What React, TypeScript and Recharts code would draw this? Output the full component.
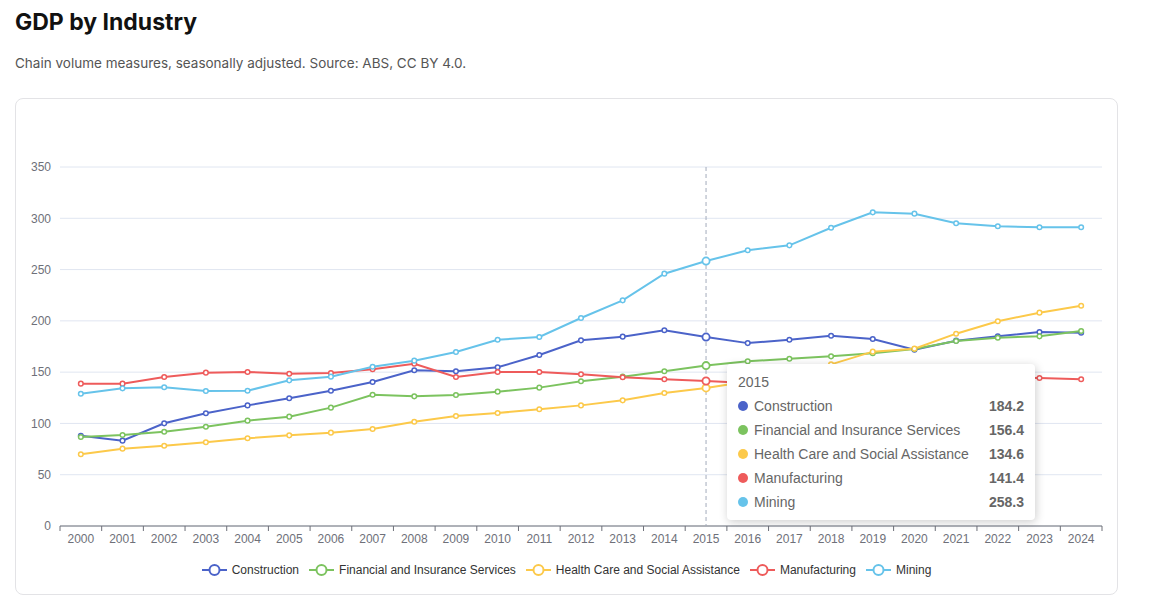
import React from 'react';
import { LineChart, Line, XAxis, YAxis, CartesianGrid, Tooltip, Legend } from 'recharts';

// Financial years shown on the category axis
const years = [
  '2000', '2001', '2002', '2003', '2004', '2005', '2006', '2007', '2008', '2009', '2010', '2011', '2012',
  '2013', '2014', '2015', '2016', '2017', '2018', '2019', '2020', '2021', '2022', '2023', '2024',
];

// Chain volume index values per industry
const construction = [
  88.0, 83.2, 100.1, 109.9, 117.6, 124.5, 131.9, 140.4, 151.8, 150.8, 154.7, 166.7, 181.0,
  184.6, 190.8, 184.2, 178.3, 181.6, 185.5, 182.3, 171.9, 180.7, 184.9, 189.1, 188.5,
];
const financial = [
  86.8, 88.7, 91.9, 96.8, 102.7, 106.6, 115.4, 128.0, 126.4, 127.7, 131.0, 134.9, 141.1,
  145.6, 150.8, 156.4, 160.6, 163.1, 165.4, 168.4, 172.6, 180.4, 183.6, 184.9, 190.1,
];
const healthCare = [
  69.9, 75.4, 78.3, 81.6, 85.5, 88.4, 91.0, 94.6, 101.7, 107.2, 110.2, 113.8, 117.6,
  122.5, 129.7, 134.6, 140.8, 148.5, 157.6, 170.0, 172.9, 187.5, 199.6, 208.0, 214.8,
];
const manufacturing = [
  138.8, 138.8, 145.3, 149.5, 150.1, 148.5, 149.2, 152.8, 158.2, 145.3, 150.1, 150.1, 147.9,
  145.0, 143.0, 141.4, 139.5, 139.0, 139.5, 140.5, 134.0, 139.5, 144.5, 144.3, 143.0,
];
const mining = [
  129.0, 134.2, 135.2, 131.6, 131.9, 142.0, 145.6, 155.3, 161.2, 169.6, 181.6, 184.3, 202.8,
  220.0, 246.0, 258.3, 268.8, 273.6, 290.8, 305.8, 304.5, 295.1, 292.2, 291.2, 291.2,
];

const yTicks = [0, 50, 100, 150, 200, 250, 300, 350];

const seriesNames = [
  'Construction',
  'Financial and Insurance Services',
  'Health Care and Social Assistance',
  'Manufacturing',
  'Mining',
];
const seriesValues = [construction, financial, healthCare, manufacturing, mining];
const seriesColors = ['#4b63c9', '#7cc35f', '#fcc94a', '#ee5b5b', '#66c3ea'];

const data = years.map((year, i) => {
  const row: Record<string, string | number> = { year };
  seriesNames.forEach((name, s) => {
    row[name] = seriesValues[s][i];
  });
  return row;
});

const CHART_W = 1103;
const CHART_H = 497;
const MARGIN = { top: 69, right: 16, bottom: 39, left: 0 };
const Y_AXIS_W = 45;
const PLOT_W = CHART_W - MARGIN.left - MARGIN.right - Y_AXIS_W;
const BAND = PLOT_W / years.length;
const AXIS_COLOR = '#6e7079';
const CHART_FONT = '"Liberation Sans", Arial, Helvetica, sans-serif';
const PAGE_FONT = 'Inter, "Noto Sans", sans-serif';

// Year label with tick marks on the band boundaries
const YearTick = (props: any) => {
  const { x, y, payload, index } = props;
  const axisY = y - 8;
  const left = x - BAND / 2;
  const right = x + BAND / 2;
  return (
    <g>
      <line x1={left} x2={left} y1={axisY} y2={axisY + 5} stroke={AXIS_COLOR} strokeWidth={1} />
      {index === years.length - 1 && (
        <line x1={right} x2={right} y1={axisY} y2={axisY + 5} stroke={AXIS_COLOR} strokeWidth={1} />
      )}
      <text x={x} y={y} dy="0.71em" textAnchor="middle" fill={AXIS_COLOR} fontSize={12} fontFamily={CHART_FONT}>
        {payload.value}
      </text>
    </g>
  );
};

const TooltipBox = (props: any) => {
  const { active, payload, label } = props;
  if (!active || !payload || !payload.length) return null;
  return (
    <div
      style={{
        background: '#fff',
        borderRadius: 4,
        boxShadow: '1px 2px 10px rgba(0,0,0,0.2)',
        padding: '8px 11px 6px 11px',
        width: 286,
        fontFamily: CHART_FONT,
        fontSize: 14,
        color: '#666',
      }}
    >
      <div style={{ lineHeight: '20px', height: 20, marginBottom: 2 }}>{label}</div>
      {payload.map((p: any) => (
        <div key={p.name} style={{ display: 'flex', alignItems: 'center', height: 24 }}>
          <span
            style={{
              display: 'inline-block',
              width: 10,
              height: 10,
              borderRadius: '50%',
              background: p.color,
              marginRight: 6,
            }}
          />
          <span>{p.name}</span>
          <span style={{ marginLeft: 'auto', fontWeight: 700 }}>{Number(p.value).toFixed(1)}</span>
        </div>
      ))}
    </div>
  );
};

const LegendRow = () => (
  <div
    style={{
      display: 'flex',
      justifyContent: 'center',
      alignItems: 'center',
      fontFamily: CHART_FONT,
      fontSize: 12,
      color: '#333',
      height: 16,
    }}
  >
    {seriesNames.map((name, i) => (
      <div key={name} style={{ display: 'flex', alignItems: 'center', marginRight: i < seriesNames.length - 1 ? 10 : 0 }}>
        <svg width={25} height={14} style={{ marginRight: 5 }}>
          <line x1={0} x2={25} y1={7} y2={7} stroke={seriesColors[i]} strokeWidth={2} />
          <circle cx={12.5} cy={7} r={5} fill="#fff" stroke={seriesColors[i]} strokeWidth={2} />
        </svg>
        <span>{name}</span>
      </div>
    ))}
  </div>
);

export default function App() {
  return (
    <div style={{ position: 'absolute', left: 0, top: 0, width: 1154, height: 613, background: '#fff' }}>
      <div
        style={{
          position: 'absolute',
          left: 15,
          top: 6,
          fontFamily: PAGE_FONT,
          fontWeight: 700,
          fontSize: 23,
          color: '#111',
          lineHeight: '32px',
        }}
      >
        GDP by Industry
      </div>
      <div
        style={{
          position: 'absolute',
          left: 15,
          top: 54,
          fontFamily: PAGE_FONT,
          fontSize: 13.5,
          color: '#555',
          lineHeight: '18px',
        }}
      >
        Chain volume measures, seasonally adjusted. Source: ABS, CC BY 4.0.
      </div>
      <div
        style={{
          position: 'absolute',
          left: 15,
          top: 98,
          width: CHART_W,
          height: CHART_H,
          boxSizing: 'border-box',
          border: '1px solid #e3e3e6',
          borderRadius: 8,
        }}
      />
      <div style={{ position: 'absolute', left: 15, top: 98 }}>
        <LineChart width={CHART_W} height={CHART_H} data={data} margin={MARGIN}>
          <CartesianGrid vertical={false} stroke="#e0e6f1" strokeWidth={1} />
          <XAxis
            dataKey="year"
            scale="band"
            interval={0}
            tickLine={false}
            tickSize={5}
            tickMargin={3}
            axisLine={{ stroke: AXIS_COLOR, strokeWidth: 1 }}
            tick={<YearTick />}
            height={30}
          />
          <YAxis
            width={Y_AXIS_W}
            domain={[0, 350]}
            ticks={yTicks}
            axisLine={false}
            tickLine={false}
            tickSize={0}
            tickMargin={9}
            tick={{ fill: AXIS_COLOR, fontSize: 12, fontFamily: CHART_FONT }}
          />
          <Tooltip
            defaultIndex={15}
            active={true}
            isAnimationActive={false}
            position={{ x: 712, y: 266 }}
            cursor={{ stroke: '#a3abbb', strokeDasharray: '4 3', strokeWidth: 1 }}
            content={<TooltipBox />}
            wrapperStyle={{ outline: 'none' }}
          />
          <Legend
            verticalAlign="middle"
            align="center"
            layout="horizontal"
            content={<LegendRow />}
            wrapperStyle={{ top: 464, left: 0, width: CHART_W }}
          />
          {seriesNames.map((name, i) => (
            <Line
              key={name}
              type="linear"
              dataKey={name}
              name={name}
              stroke={seriesColors[i]}
              strokeWidth={2}
              dot={{ r: 2.3, fill: '#fff', stroke: seriesColors[i], strokeWidth: 1.5 }}
              activeDot={{ r: 3.6, fill: '#fff', stroke: seriesColors[i], strokeWidth: 1.8 }}
              isAnimationActive={false}
            />
          ))}
        </LineChart>
      </div>
    </div>
  );
}
